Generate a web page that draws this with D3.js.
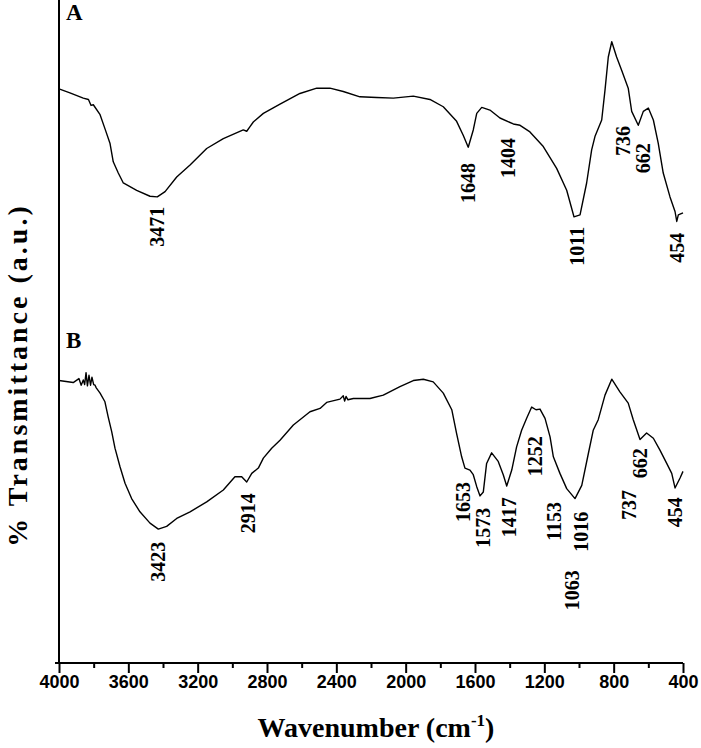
<!DOCTYPE html>
<html>
<head>
<meta charset="utf-8">
<script src="https://cdn.jsdelivr.net/npm/d3@7/dist/d3.min.js"></script>
<style>
  html, body { margin: 0; padding: 0; background: #fff; }
  svg { display: block; }
</style>
</head>
<body>
<svg id="chart" width="701" height="748"></svg>
<script>
// ---- Data ----
// Spectrum A: wavenumber (cm-1) and transmittance (a.u.)
const waveA = [4000,3937,3860,3830,3815,3802,3763,3735,3706,3687,3658,3629,3552,3475,3433,3388,3321,3244,3148,3052,2937,2917,2898,2879,2821,2725,2610,2513,2437,2360,2264,2167,2071,1956,1860,1783,1706,1668,1639,1610,1590,1561,1514,1456,1379,1340,1283,1206,1129,1071,1029,994,956,927,908,869,850,831,811,783,754,716,696,658,629,600,571,543,514,475,446,436,427,400];
const transA = [86.6,86.0,85.2,85.0,84.1,84.2,82.7,80.6,78.4,75.6,73.9,72.4,71.3,70.4,70.3,71.1,73.3,75.1,77.6,79.1,80.4,80.2,80.9,81.6,82.9,84.3,85.9,86.7,86.7,86.2,85.4,85.3,85.2,85.5,85.0,83.9,81.7,79.6,77.8,80.4,82.9,83.8,83.4,82.2,81.3,81.1,80.1,77.9,74.6,71.3,67.3,67.6,72.4,77.4,79.4,81.9,86.4,91.4,93.7,91.4,89.4,86.7,83.2,81.1,83.2,83.7,81.9,78.4,73.9,70.3,68.1,66.6,67.6,67.9];

// Spectrum B
const waveB = [4000,3918,3885,3872,3860,3852,3844,3836,3827,3818,3810,3800,3792,3785,3763,3735,3716,3696,3677,3648,3619,3581,3533,3475,3427,3379,3321,3244,3148,3052,2985,2946,2917,2888,2850,2821,2773,2725,2648,2552,2494,2456,2379,2360,2352,2344,2333,2302,2206,2129,2033,1956,1898,1841,1783,1734,1706,1677,1658,1629,1610,1590,1571,1552,1533,1504,1466,1437,1417,1388,1360,1331,1302,1273,1248,1225,1196,1167,1148,1110,1071,1023,984,946,918,889,850,811,764,716,687,648,610,571,533,494,465,446,417,400];
const transB = [42.6,42.3,42.9,41.9,42.7,42.0,43.8,41.8,43.4,41.9,43.1,42.0,41.9,41.5,40.7,39.4,37.1,34.9,32.4,29.6,27.1,24.8,22.8,21.1,20.2,20.6,21.8,22.8,24.3,26.1,28.1,28.1,27.3,28.6,29.4,30.9,32.4,33.6,35.9,37.9,38.4,39.3,39.8,40.3,39.5,40.2,39.7,39.9,39.9,40.4,41.7,42.6,42.8,42.4,40.7,38.2,34.6,31.1,29.4,29.1,28.4,26.6,25.2,25.8,30.1,31.7,30.4,28.4,26.7,29.1,32.6,35.1,36.9,38.6,38.2,38.3,36.9,34.1,31.1,28.6,26.3,24.8,26.8,31.6,35.1,36.7,40.4,42.8,40.9,39.2,36.7,33.7,34.7,33.9,32.1,30.1,28.6,26.4,27.9,28.9];

// Peak annotations: label text, anchor wavenumber, anchor transmittance (top of label)
const peakTextA = ["3471","1648","1404","1011","736","662","454"];
const peakWaveA = [3435,1640,1410,1012,746,631,435];
const peakTopA  = [68.8,75.4,79.2,65.8,81.0,78.4,64.9];

const peakTextB = ["3423","2914","1653","1573","1417","1252","1153","1063","1016","737","662","454"];
const peakWaveB = [3429,2910,1669,1554,1404,1254,1144,1040,989,712,648,446];
const peakTopB  = [18.3,25.6,27.3,23.4,25.0,34.2,24.3,14.0,22.8,26.1,32.4,25.0];

// Panel letters (baseline position in transmittance units)
const panelText = ["A","B"];
const panelBase = [97.0,47.5];

// Axis ticks
const majorTicks = [4000,3600,3200,2800,2400,2000,1600,1200,800,400];
const minorTicks = [3800,3400,3000,2600,2200,1800,1400,1000,600];

const xTitle = "Wavenumber (cm";
const yTitle = "% Transmittance (a.u.)";

// ---- Drawing ----
const svg = d3.select("#chart");
const mLeft = 59, mRight = 683, mTop = 0, mBottom = 663;

const x = d3.scaleLinear().domain([4000, 400]).range([mLeft, mRight]);
const y = d3.scaleLinear().domain([0, 100]).range([mBottom, mTop]);

const line = d3.line().x(d => x(d[0])).y(d => y(d[1]));

function drawSeries(w, t) {
  svg.append("path")
    .datum(w.map((v, i) => [v, t[i]]))
    .attr("d", line)
    .attr("fill", "none")
    .attr("stroke", "#000")
    .attr("stroke-width", 1.4)
    .attr("stroke-linejoin", "round");
}
drawSeries(waveA, transA);
drawSeries(waveB, transB);

// Y axis line (no ticks)
svg.append("line")
  .attr("x1", mLeft).attr("x2", mLeft)
  .attr("y1", 0).attr("y2", mBottom)
  .attr("stroke", "#000").attr("stroke-width", 2);

// X axis: major ticks with labels
const gx = svg.append("g").attr("transform", `translate(0,${mBottom})`)
  .call(d3.axisBottom(x).tickValues(majorTicks).tickSize(10).tickSizeOuter(0).tickFormat(d3.format("d")));
gx.select(".domain").attr("stroke-width", 2).attr("d", `M${mLeft - 4},0H${mRight}`);
gx.selectAll(".tick line").attr("stroke-width", 2);
gx.selectAll(".tick text")
  .attr("font-family", "'Liberation Sans', Arial, sans-serif")
  .attr("font-weight", "bold")
  .attr("font-size", 18)
  .attr("fill", "#000")
  .attr("dy", "1.3em")
  .attr("y", 2);

// minor ticks
const gm = svg.append("g").attr("transform", `translate(0,${mBottom})`)
  .call(d3.axisBottom(x).tickValues(minorTicks).tickSize(5).tickSizeOuter(0).tickFormat(""));
gm.select(".domain").remove();
gm.selectAll(".tick line").attr("stroke-width", 2);

// Axis titles
const xt = svg.append("text")
  .attr("x", 376).attr("y", 737)
  .attr("text-anchor", "middle")
  .attr("font-family", "'Liberation Serif', 'Times New Roman', serif")
  .attr("font-weight", "bold")
  .attr("font-size", 28)
  .attr("fill", "#000");
xt.append("tspan").text(xTitle);
xt.append("tspan").attr("dy", -11).attr("font-size", 17).text("-1");
xt.append("tspan").attr("dy", 11).text(")");

svg.append("text")
  .attr("transform", `translate(27,375) rotate(-90)`)
  .attr("text-anchor", "middle")
  .attr("font-family", "'Liberation Serif', 'Times New Roman', serif")
  .attr("font-weight", "bold")
  .attr("font-size", 28)
  .attr("letter-spacing", 3)
  .attr("fill", "#000")
  .text(yTitle);

// Panel letters
panelText.forEach((t, i) => {
  svg.append("text")
    .attr("x", mLeft + 7).attr("y", y(panelBase[i]))
    .attr("font-family", "'Liberation Serif', 'Times New Roman', serif")
    .attr("font-weight", "bold")
    .attr("font-size", 23)
    .attr("fill", "#000")
    .text(t);
});

// Peak labels
function drawPeaks(texts, waves, tops) {
  texts.forEach((t, i) => {
    svg.append("text")
      .attr("transform", `translate(${x(waves[i])},${y(tops[i])}) rotate(-90)`)
      .attr("text-anchor", "end")
      .attr("dy", "0.35em")
      .attr("font-family", "'Liberation Serif', 'Times New Roman', serif")
      .attr("font-weight", "bold")
      .attr("font-size", 20)
      .attr("fill", "#000")
      .text(t);
  });
}
drawPeaks(peakTextA, peakWaveA, peakTopA);
drawPeaks(peakTextB, peakWaveB, peakTopB);
</script>
</body>
</html>
